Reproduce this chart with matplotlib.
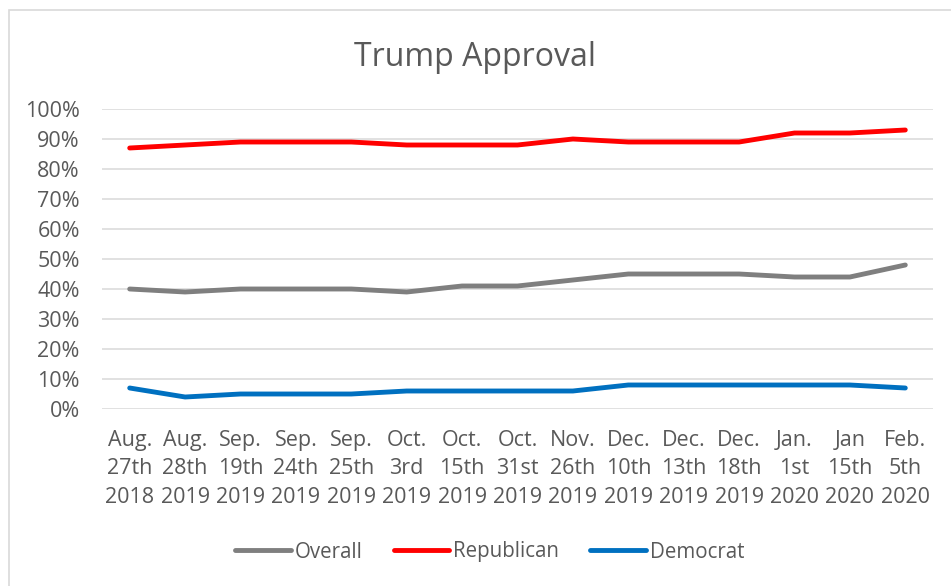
import matplotlib.pyplot as plt
import matplotlib.ticker as mtick
from matplotlib.patches import Rectangle
import numpy as np

plt.rcParams['font.family'] = ['Open Sans', 'DejaVu Sans']

dates = ['Aug.\n27th\n2018', 'Aug.\n28th\n2019', 'Sep.\n19th\n2019', 'Sep.\n24th\n2019',
         'Sep.\n25th\n2019', 'Oct.\n3rd\n2019', 'Oct.\n15th\n2019', 'Oct.\n31st\n2019',
         'Nov.\n26th\n2019', 'Dec.\n10th\n2019', 'Dec.\n13th\n2019', 'Dec.\n18th\n2019',
         'Jan.\n1st\n2020', 'Jan\n15th\n2020', 'Feb.\n5th\n2020']
overall = [40, 39, 40, 40, 40, 39, 41, 41, 43, 45, 45, 45, 44, 44, 48]
republican = [87, 88, 89, 89, 89, 88, 88, 88, 90, 89, 89, 89, 92, 92, 93]
democrat = [7, 4, 5, 5, 5, 6, 6, 6, 6, 8, 8, 8, 8, 8, 7]

txt = '#595959'
W, H = 951, 586

fig = plt.figure(figsize=(W / 100, H / 100), dpi=100)
# light chart-area border (runs off the right and bottom edges)
fig.patches.append(Rectangle((9 / W, -0.1), 1.2, 1.1 - 10 / H, transform=fig.transFigure,
                             fill=False, edgecolor='#d9d9d9', linewidth=1.2))

ax = fig.add_axes([102 / W, (H - 409) / H, (933 - 102) / W, 300 / H])
x = np.arange(len(dates))
ax.plot(x, overall, color='#7f7f7f', lw=3.5, solid_capstyle='round', label='Overall')
ax.plot(x, republican, color='#ff0000', lw=3.5, solid_capstyle='round', label='Republican')
ax.plot(x, democrat, color='#0070c0', lw=3.5, solid_capstyle='round', label='Democrat')

ax.set_xlim(-0.5, len(dates) - 0.5)
ax.set_ylim(0, 100)
ax.yaxis.set_major_locator(mtick.MultipleLocator(10))
ax.yaxis.set_major_formatter(mtick.PercentFormatter(decimals=0))
ax.grid(axis='y', color='#d9d9d9', lw=1.1)
ax.set_axisbelow(True)
for s in ax.spines.values():
    s.set_visible(False)
ax.tick_params(length=0, colors=txt, labelsize=15.5)
ax.tick_params(axis='y', pad=16)
ax.tick_params(axis='x', pad=15)
ax.set_xticks(x)
ax.set_xticklabels(dates, linespacing=1.47)

fig.text(0.5, (H - 57) / H, 'Trump Approval', ha='center', va='center', fontsize=23, color=txt)
leg = fig.legend(loc='center', bbox_to_anchor=(0.515, (H - 552) / H), ncol=3, frameon=False,
                 fontsize=14.8, handlelength=2.7, handletextpad=0.2, columnspacing=1.5)
for t in leg.get_texts():
    t.set_color(txt)

fig.savefig('out.png', dpi=100)
